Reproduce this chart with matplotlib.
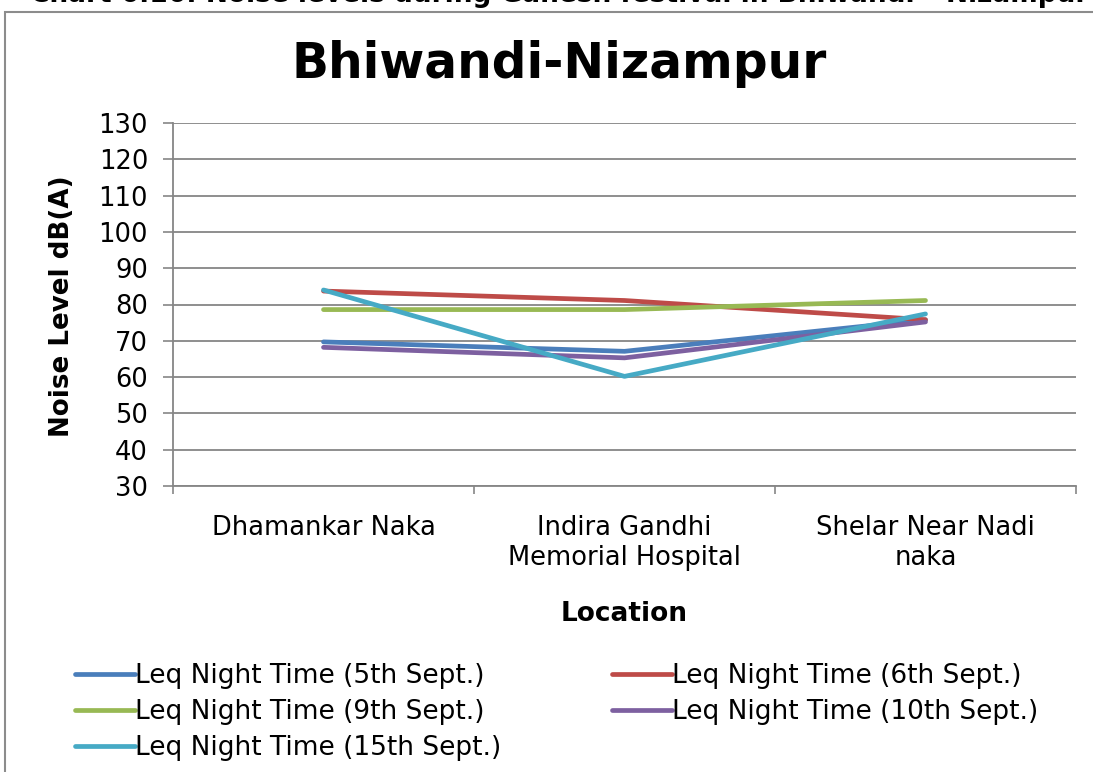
import matplotlib
matplotlib.use("Agg")
import matplotlib.pyplot as plt
from matplotlib.patches import Rectangle

locations = ["Dhamankar Naka", "Indira Gandhi\nMemorial Hospital", "Shelar Near Nadi\nnaka"]
series_names = ["Leq Night Time (5th Sept.)", "Leq Night Time (6th Sept.)",
                "Leq Night Time (9th Sept.)", "Leq Night Time (10th Sept.)",
                "Leq Night Time (15th Sept.)"]
leq_5th = [69.7, 67.1, 75.8]
leq_6th = [83.7, 81.1, 75.8]
leq_9th = [78.6, 78.6, 81.1]
leq_10th = [68.2, 65.3, 75.2]
leq_15th = [84.0, 60.2, 77.4]
y_ticks = [30, 40, 50, 60, 70, 80, 90, 100, 110, 120, 130]

colors = ["#4A7EBB", "#BE4B48", "#98B954", "#7D60A0", "#46AAC5"]
all_series = [leq_5th, leq_6th, leq_9th, leq_10th, leq_15th]

plt.rcParams['font.family'] = ['DejaVu Sans']
fig = plt.figure(figsize=(10.93, 7.72), dpi=100)

# outer frame
fig.patches.append(Rectangle((5/1093, -0.05), 1.2, 1 - 12/772 + 0.05, transform=fig.transFigure,
                             fill=False, edgecolor="#8c8c8c", linewidth=1.5))
fig.text(559/1093, 1 + 5/772, "Chart 6.16: Noise levels during Ganesh festival in Bhiwandi \u2013 Nizampur",
         ha="center", va="center", fontsize=19, fontweight="bold")

ax = fig.add_axes([173/1093, 1 - 486/772, (1076 - 173)/1093, (486 - 123)/772])
x = [0, 1, 2]
handles = []
for s, c, n in zip(all_series, colors, series_names):
    h, = ax.plot(x, s, color=c, linewidth=3.4, solid_capstyle="round", label=n, zorder=3)
    handles.append(h)

ax.set_xlim(-0.5, 2.5)
ax.set_ylim(30, 130)
ax.set_yticks(y_ticks)
ax.set_xticks(x)
ax.set_xticklabels(locations, fontsize=18.5, linespacing=1.2)
ax.set_xticks([-0.5, 0.5, 1.5, 2.5], minor=True)
ax.tick_params(axis="x", which="major", length=0, pad=21)
ax.tick_params(axis="x", which="minor", length=6, color="#868686", width=1.2)
ax.tick_params(axis="y", labelsize=18.5, length=7, color="#868686", width=1.2, pad=11)
ax.grid(axis="y", color="#868686", linewidth=1.3)
ax.set_axisbelow(True)
for sp in ["top", "right"]:
    ax.spines[sp].set_visible(False)
for sp in ["left", "bottom"]:
    ax.spines[sp].set_color("#868686")
    ax.spines[sp].set_linewidth(1.3)

ax.set_xlabel("Location", fontsize=19, fontweight="bold")
ax.xaxis.set_label_coords(0.5, (486 - 614) / 363)
ax.xaxis.label.set_va("center")
ax.set_ylabel("Noise Level dB(A)", fontsize=18.8, fontweight="bold")
ax.yaxis.set_label_coords((62 - 173) / 903, (486 - 306) / 363)
ax.yaxis.label.set_va("center")
fig.text(559/1093, 1 - 64/772, "Bhiwandi-Nizampur", ha="center", va="center",
         fontsize=35, fontweight="bold")

order = [0, 2, 4, 1, 3]
leg = fig.legend([handles[i] for i in order], [series_names[i] for i in order],
                 ncol=2, loc="upper left", bbox_to_anchor=(75/1093, 1 - 663/772),
                 frameon=False, fontsize=19, handlelength=2.27, handletextpad=0.0,
                 columnspacing=4.2, labelspacing=0.38, borderaxespad=0, borderpad=0)

fig.savefig("out.png", dpi=100)
